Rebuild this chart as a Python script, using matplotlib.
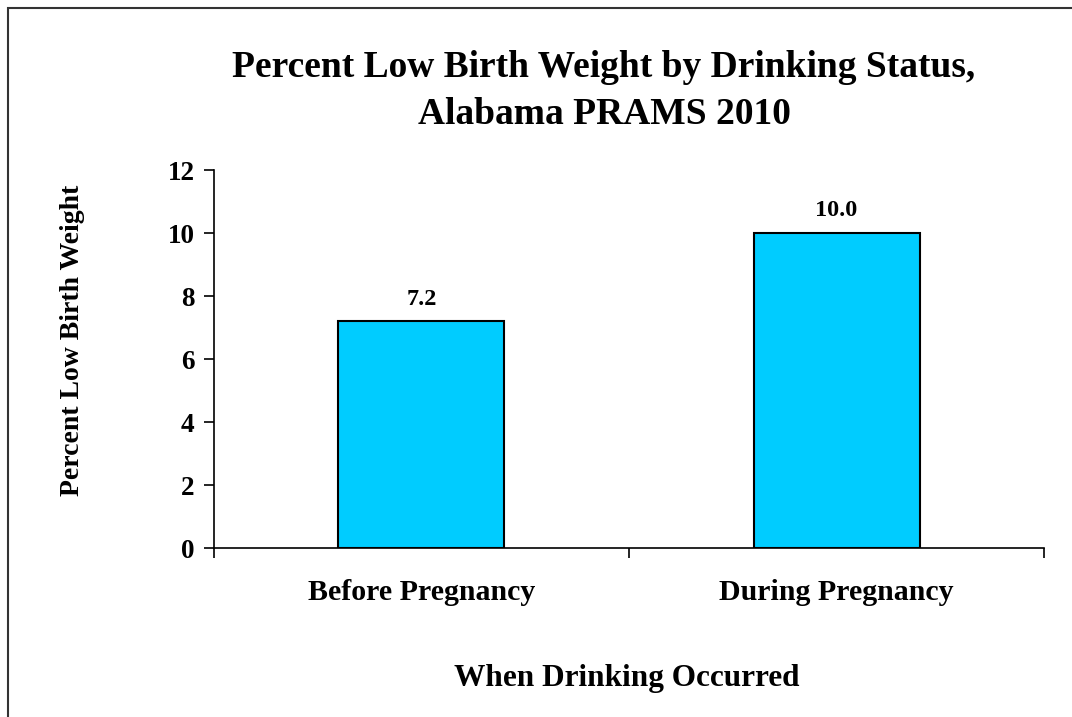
import matplotlib.pyplot as plt
from matplotlib.patches import Rectangle

# data
categories = ["Before Pregnancy", "During Pregnancy"]
values = [7.2, 10.0]
value_labels = ["7.2", "10.0"]
y_ticks = [0, 2, 4, 6, 8, 10, 12]

plt.rcParams["font.family"] = ["Liberation Serif", "DejaVu Serif"]
plt.rcParams["font.weight"] = "bold"

fig = plt.figure(figsize=(10.72, 7.17), dpi=100)
ax = fig.add_axes([0.1996, 0.2357, 0.7743, 0.5272])

x = list(range(len(categories)))
ax.bar(x, values, width=0.4, color="#00CCFF", edgecolor="black", linewidth=1.5, zorder=2)

# value labels above the bars
for xi, v, lab in zip(x, values, value_labels):
    ax.annotate(lab, (xi, v), xytext=(0, 12), textcoords="offset points",
                ha="center", va="baseline", fontsize=17.5, fontweight="bold")

ax.set_xlim(-0.5, 1.5)
ax.set_ylim(0, 12)
ax.set_yticks(y_ticks)
ax.set_yticklabels([str(t) for t in y_ticks], fontsize=19.5, fontweight="bold")

ax.set_xticks([-0.5, 0.5, 1.5])
ax.set_xticklabels([])
ax.set_xticks(x, minor=True)
ax.set_xticklabels(categories, minor=True, fontsize=21.5, fontweight="bold")
ax.tick_params(axis="x", which="minor", length=0, pad=22)
ax.tick_params(axis="both", which="major", direction="out", length=7, width=1.2)
ax.tick_params(axis="y", pad=7)

for s in ["top", "right"]:
    ax.spines[s].set_visible(False)
for s in ["left", "bottom"]:
    ax.spines[s].set_linewidth(1.2)

# axis titles
fig.text(73 / 1072, 1 - 340 / 717, "Percent Low Birth Weight", rotation=90,
         ha="center", va="center", fontsize=20, fontweight="bold")
fig.text(627 / 1072, 1 - 686 / 717, "When Drinking Occurred",
         ha="center", va="baseline", fontsize=22.5, fontweight="bold")

fig.text(604 / 1072, 0.873, "Percent Low Birth Weight by Drinking Status,\nAlabama PRAMS 2010",
         ha="center", va="center", fontsize=27, fontweight="bold", linespacing=1.46)

# outer frame
fig.patches.append(Rectangle((8 / 1072, -0.1), 1.2, 0.1 + 1 - 8 / 717, transform=fig.transFigure,
                             fill=False, edgecolor="#333333", linewidth=1.5, clip_on=False))

fig.savefig("out.png", dpi=100)
